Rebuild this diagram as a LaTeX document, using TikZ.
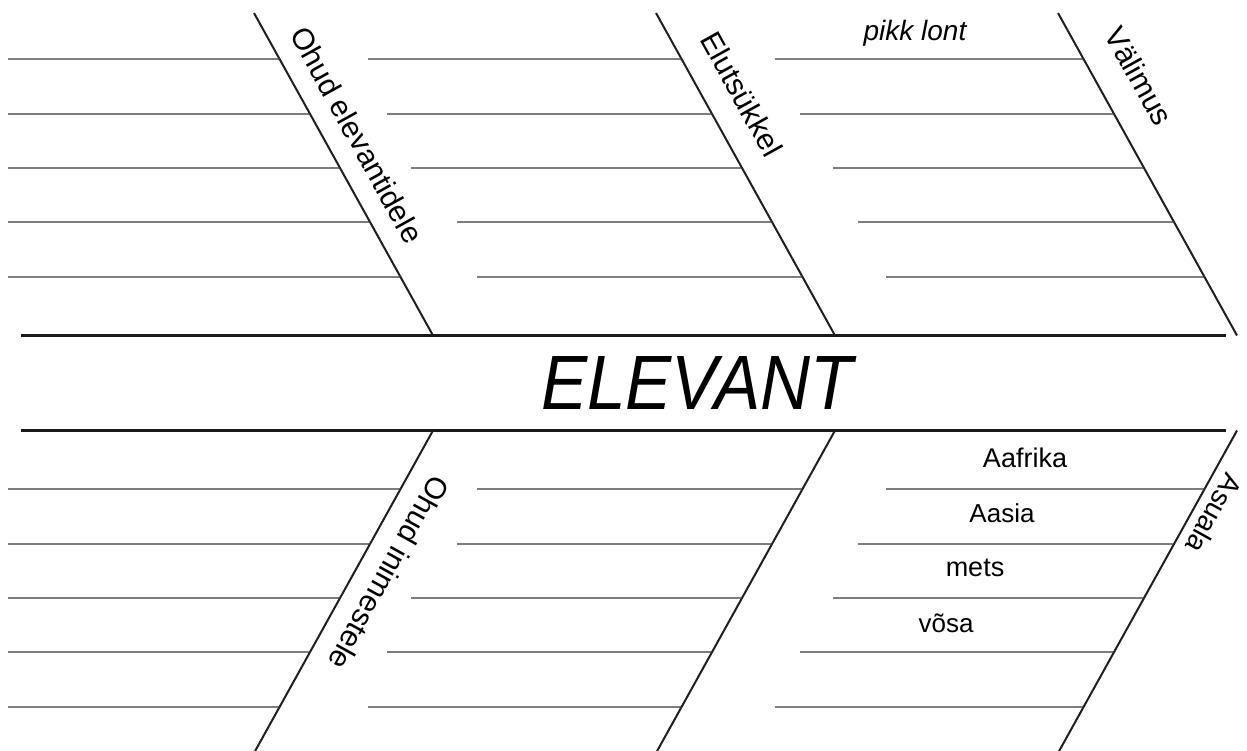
\documentclass[tikz,border=0pt]{standalone}
\usepackage{fontspec}
\newfontfamily\hand{Liberation Sans}
\usetikzlibrary{calc}
\begin{document}
\begin{tikzpicture}[x=1pt,y=-1pt,
  spine/.style={line width=2.3pt, black!90},
  bone/.style={line width=2pt, black!88},
  rib/.style={line width=1.3pt, black!78},
  cat/.style={font=\hand\fontsize{30}{36}\selectfont, inner sep=0pt},
  item/.style={inner sep=0pt},
  ttl/.style={font=\hand\itshape\fontsize{77}{80}\selectfont, inner sep=0pt}]
\useasboundingbox (0,0) rectangle (1247,750);
% diagonal bones: u = top end, v = bottom end (upper half); w = top end, z = bottom end (lower half)
\foreach \i/\x in {1/254,2/656,3/1058} {
  \coordinate (u\i) at (\x,13);
  \coordinate (v\i) at (\x+179,335.5);
  \coordinate (w\i) at (\x+179,430.5);
  \coordinate (z\i) at (\x,753);
}
% spine lines
\coordinate (s1a) at (21,335.5); \coordinate (s1b) at (1226,335.5);
\coordinate (s2a) at (21,430.5); \coordinate (s2b) at (1226,430.5);
\draw[spine] (s1a) -- (s1b);
\draw[spine] (s2a) -- (s2b);
\foreach \i in {1,2,3} {
  \draw[bone] (u\i) -- (v\i);
  \draw[bone] (w\i) -- (z\i);
}
% ribs
\foreach \y/\a/\b in {59/368/775, 114/387/800, 168/411/833, 222/457/858, 277/477/886} {
  \pgfmathsetmacro\f{(\y-13)/322.5}
  \pgfmathsetmacro\yb{766-\y}
  \draw[rib] (8,\y) -- ($(u1)!\f!(v1)$);
  \draw[rib] (\a,\y) -- ($(u2)!\f!(v2)$);
  \draw[rib] (\b,\y) -- ($(u3)!\f!(v3)$);
  \draw[rib] (8,\yb) -- ($(z1)!\f!(w1)$);
  \draw[rib] (\a,\yb) -- ($(z2)!\f!(w2)$);
  \draw[rib] (\b,\yb) -- ($(z3)!\f!(w3)$);
}
% category labels
\node[cat, rotate=-61] (l1) at (357,135) {Ohud elevantidele};
\node[cat, rotate=-61] (l2) at (742,94) {Elutsükkel};
\node[cat, rotate=-61] (l3) at (1139,76) {Välimus};
\node[cat, rotate=-119] (l4) at (389,573) {Ohud inimestele};
\node[cat, rotate=-119, font=\hand\fontsize{28}{34}\selectfont] (l5) at (1214,514) {Asuala};
% title
\node[ttl] (title) at (697,383) {\scalebox{0.9}[1]{ELEVANT}};
% items
\node[item, font=\hand\itshape\fontsize{28}{32}\selectfont] (i1) at (915,33) {pikk lont};
\node[item, font=\hand\fontsize{27}{32}\selectfont] (i2) at (1025,458) {Aafrika};
\node[item, font=\hand\fontsize{26}{30}\selectfont] (i3) at (1002,513) {Aasia};
\node[item, font=\hand\fontsize{27}{32}\selectfont] (i4) at (975,568) {mets};
\node[item, font=\hand\fontsize{26}{30}\selectfont] (i5) at (946,623) {võsa};
\end{tikzpicture}
\end{document}
